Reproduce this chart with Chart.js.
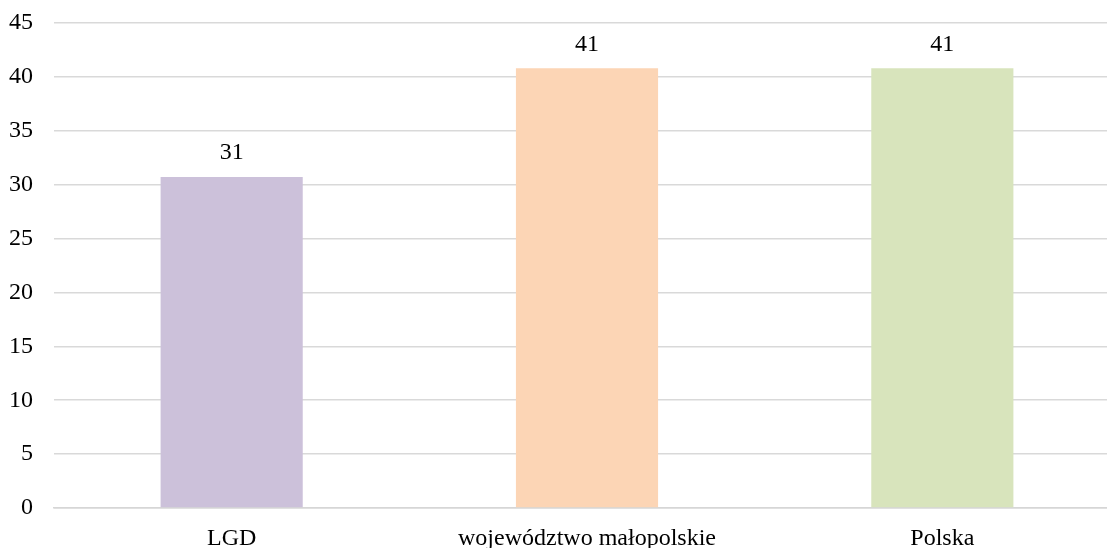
<!DOCTYPE html>
<html>
<head>
<meta charset="utf-8">
<script src="https://cdn.jsdelivr.net/npm/chart.js@4"></script>
<style>
  html, body { margin: 0; padding: 0; background: #fff; overflow: hidden; }
  #wrap { width: 1107px; height: 548px; overflow: hidden; }
</style>
</head>
<body>
<div id="wrap"><canvas id="chart" width="1120" height="548"></canvas></div>
<script>
const categories = ['LGD', 'województwo małopolskie', 'Polska'];
const values = [30.7, 40.8, 40.8];
const barColors = ['#ccc1da', '#fcd5b5', '#d8e4bc'];
const yTicks = { min: 0, max: 45, step: 5 };

const FONT = "'Liberation Serif', 'Times New Roman', serif";

// draws the rounded value above each bar
const valueLabels = {
  id: 'valueLabels',
  afterDatasetsDraw(chart) {
    const c = chart.ctx;
    const meta = chart.getDatasetMeta(0);
    c.save();
    c.font = '24px ' + FONT;
    c.fillStyle = '#000';
    c.textAlign = 'center';
    c.textBaseline = 'middle';
    meta.data.forEach((bar, i) => {
      c.fillText(Math.round(values[i]).toString(), bar.x, bar.y - 24);
    });
    c.restore();
  }
};

const ctx = document.getElementById('chart').getContext('2d');
new Chart(ctx, {
  type: 'bar',
  data: {
    labels: categories,
    datasets: [{
      data: values,
      backgroundColor: barColors,
      barPercentage: 0.4,
      categoryPercentage: 1.0
    }]
  },
  options: {
    responsive: false,
    animation: false,
    layout: { padding: { top: 23, right: 0, left: 0, bottom: 0 } },
    plugins: {
      legend: { display: false },
      tooltip: { enabled: false }
    },
    scales: {
      x: {
        grid: { display: false },
        border: { display: true, color: '#d6d6d6', width: 1.5 },
        ticks: {
          color: '#000',
          font: { family: FONT, size: 24 },
          padding: 8,
          maxRotation: 0
        },
        afterFit(scale) { scale.height = 40; }
      },
      y: {
        min: yTicks.min,
        max: yTicks.max,
        border: { display: false },
        grid: { color: '#d9d9d9', lineWidth: 1.5, drawTicks: false },
        ticks: {
          stepSize: yTicks.step,
          color: '#000',
          font: { family: FONT, size: 24 },
          padding: 21
        },
        afterFit(scale) {
          scale.width = 54;
          scale.paddingTop = 0;
          scale.paddingBottom = 0;
        }
      }
    }
  },
  plugins: [valueLabels]
});
</script>
</body>
</html>
